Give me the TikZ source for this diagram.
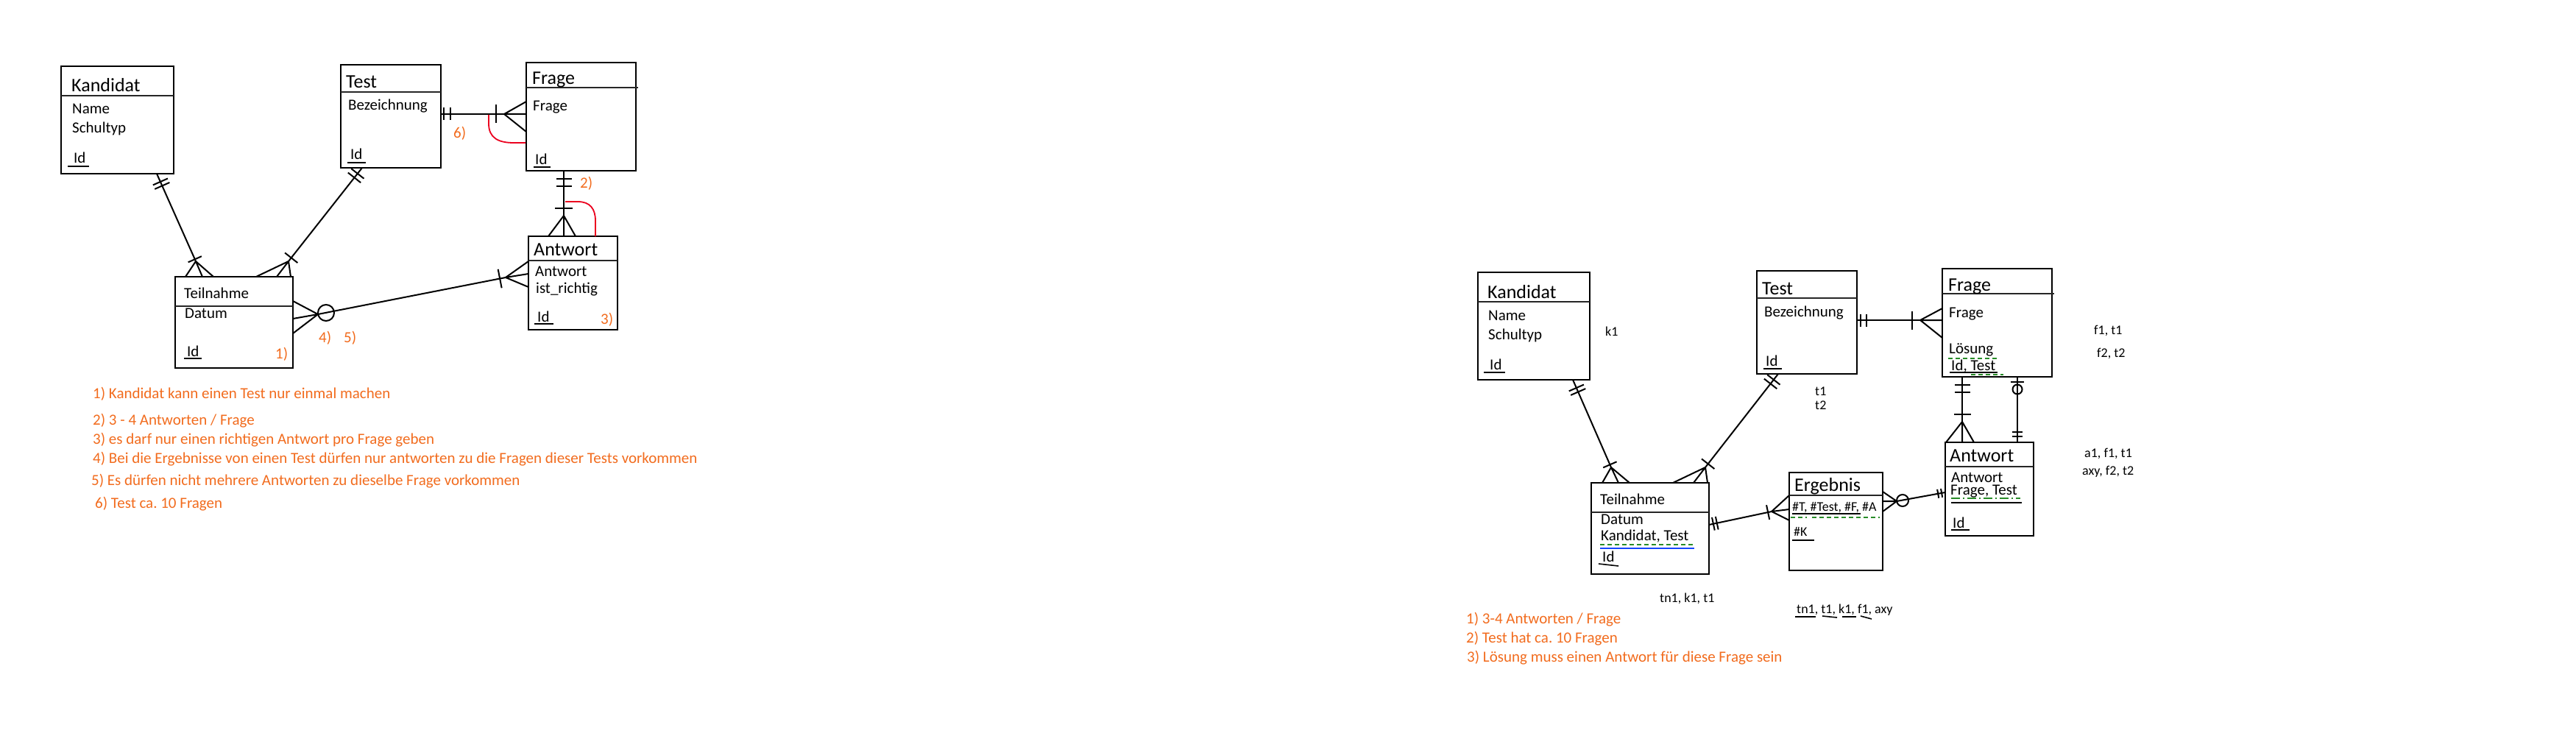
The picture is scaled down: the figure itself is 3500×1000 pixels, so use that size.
\documentclass[tikz,border=0pt]{standalone}
\usepackage{fontspec}
\setmainfont{Carlito}
\usetikzlibrary{calc}
\definecolor{orng}{RGB}{242,108,30}
\definecolor{redc}{RGB}{235,0,30}
\definecolor{grn}{RGB}{40,140,40}
\definecolor{blu}{RGB}{20,70,255}
\newcommand\ertick[4]{\draw[conn] ($(#1)!#3!(#2)!#4!90:(#2)$) -- ($(#1)!#3!(#2)!#4!-90:(#2)$);}
\newcommand\crow[4]{\draw[conn] (#1) -- (#2) (#1) -- (#3) (#1) -- (#4);}
\frenchspacing
\begin{document}
\begin{tikzpicture}[x=1pt,y=-1pt,
  ebox/.style n args={2}{draw, line width=2.2pt, anchor=north west, inner sep=0pt, outer sep=0pt, minimum width=#1pt, minimum height=#2pt},
  sepl/.style={line width=1.5pt, draw=black!85},
  conn/.style={line width=2pt},
  ul/.style={line width=1.6pt},
  gdash/.style={line width=1.5pt, draw=grn, dash pattern=on 6pt off 4pt},
  attr/.style={anchor=base west, inner sep=0pt, font=\fontsize{21}{25}\selectfont},
  ttl/.style={anchor=base west, inner sep=0pt, font=\fontsize{26}{30}\selectfont},
  small/.style={anchor=base west, inner sep=0pt, font=\fontsize{18}{22}\selectfont},
  note/.style={anchor=base west, inner sep=0pt, text=orng, font=\fontsize{21}{25}\selectfont},
  ring/.style={circle, draw, line width=2pt, inner sep=0pt, minimum size=#1pt}
]
\fill[white] (0,0) rectangle (3500,1000);
\useasboundingbox (0,0) rectangle (3500,1000);

%================ LEFT DIAGRAM ================
\node[ebox={153}{146}] (kand) at (83,90) {};
\draw[sepl] ([yshift=-40pt]kand.north west) -- ([yshift=-40pt]kand.north east);
\node[ebox={136}{140}] (test) at (463,88) {};
\draw[sepl] ([yshift=-37pt]test.north west) -- ([yshift=-37pt]test.north east);
\node[ebox={149}{147}] (frage) at (715,85) {};
\draw[sepl] ([yshift=-34pt]frage.north west) -- ([yshift=-34pt,xshift=3pt]frage.north east);
\node[ebox={121}{127}] (antw) at (718,321) {};
\draw[sepl] ([yshift=-33pt]antw.north west) -- ([yshift=-33pt]antw.north east);
\node[ebox={160}{124}] (teil) at (238,376) {};
\draw[sepl] ([yshift=-40pt]teil.north west) -- ([yshift=-40pt]teil.north east);

% texts
\node[ttl] (kandT) at (97,125) {Kandidat};
\node[attr] (kandA) at (98,155) {Name};
\node[attr] (kandB) at (98,181) {Schultyp};
\node[attr] (kandI) at (100,222) {Id};
\draw[ul] (92,226) -- (121,226);

\node[ttl] (testT) at (470,120) {Test};
\node[attr] (testA) at (473,150) {Bezeichnung};
\node[attr] (testI) at (476,217) {Id};
\draw[ul] (472,221) -- (497,221);

\node[ttl] (frageT) at (723,115) {Frage};
\node[attr] (frageA) at (724,151) {Frage};
\node[attr] (frageI) at (727,224) {Id};
\draw[ul] (725,227) -- (748,227);

\node[ttl] (antwT) at (725,347) {Antwort};
\node[attr] (antwA) at (727,375) {Antwort};
\node[attr] (antwB) at (728,398) {ist\_richtig};
\node[attr] (antwI) at (730,437) {Id};
\draw[ul] (726,440) -- (752,440);
\node[note] (n3) at (816,440) {3)};

\node[attr] (teilT) at (250,405) {Teilnahme};
\node[attr] (teilA) at (251,432) {Datum};
\node[attr] (teilI) at (254,484) {Id};
\draw[ul] (250,487) -- (274,487);
\node[note] (n1) at (374,487) {1)};

\node[note] (n4) at (433,465) {4)};
\node[note] (n5) at (467,465) {5)};
\node[note] (n6) at (616,188) {6)};
\node[note] (n2) at (788,256) {2)};

% connector Kandidat - Teilnahme
\coordinate (c1s) at (213,236);
\coordinate (c1p) at (266,355);
\draw[conn] (c1s) -- (c1p);
\ertick{c1s}{c1p}{12pt}{11pt}
\ertick{c1s}{c1p}{18pt}{11pt}
\ertick{c1p}{c1s}{3pt}{10pt}
\crow{c1p}{252,376}{275,376}{290,376}

% connector Test - Teilnahme
\coordinate (c2s) at (492,228);
\coordinate (c2p) at (392,355);
\draw[conn] (c2s) -- (c2p);
\ertick{c2s}{c2p}{10pt}{11pt}
\ertick{c2s}{c2p}{17pt}{11pt}
\ertick{c2p}{c2s}{6pt}{11pt}
\crow{c2p}{348,376}{376,376}{395,376}

% connector Test - Frage
\coordinate (c3s) at (599,155);
\coordinate (c3e) at (715,155);
\coordinate (c3p) at (685,155);
\draw[conn] (c3s) -- (c3e);
\ertick{c3s}{c3e}{4pt}{8.5pt}
\ertick{c3s}{c3e}{13pt}{8.5pt}
\ertick{c3s}{c3e}{75pt}{12.5pt}
\crow{c3p}{715,138}{715,155}{715,179}
\draw[redc, line width=1.8pt] (664,156) -- (664,168) .. controls (664,188) and (678,194) .. (698,194) -- (714,194);

% connector Frage - Antwort
\coordinate (c4s) at (766,232);
\coordinate (c4e) at (766,321);
\coordinate (c4p) at (766,293);
\draw[conn] (c4s) -- (c4e);
\ertick{c4s}{c4e}{11pt}{10.5pt}
\ertick{c4s}{c4e}{21pt}{10.5pt}
\ertick{c4s}{c4e}{51pt}{12pt}
\crow{c4p}{745,321}{766,321}{782,321}
\draw[redc, line width=1.8pt] (768,274) -- (785,274) .. controls (802,274) and (809,284) .. (809,300) -- (809,321);

% connector Teilnahme - Antwort
\coordinate (c5a) at (432,427);
\coordinate (c5b) at (687,377);
\crow{c5a}{398,409}{398,433}{398,453}
\node[ring=22] (c5o) at (443,425) {};
\draw[conn] (c5a) -- (c5b);
\ertick{c5b}{c5a}{8pt}{13pt}
\crow{c5b}{718,355}{718,372}{718,390}

% notes left
\node[note] (l1) at (126,541) {1) Kandidat kann einen Test nur einmal machen};
\node[note] (l2) at (126,577) {2) 3 - 4 Antworten / Frage};
\node[note] (l3) at (126,603) {3) es darf nur einen richtigen Antwort pro Frage geben};
\node[note] (l4) at (126,629) {4) Bei die Ergebnisse von einen Test dürfen nur antworten zu die Fragen dieser Tests vorkommen};
\node[note] (l5) at (124,659) {5) Es dürfen nicht mehrere Antworten zu dieselbe Frage vorkommen};
\node[note] (l6) at (129,690) {6) Test ca. 10 Fragen};

%================ RIGHT DIAGRAM ================
\node[ebox={152}{146}] (kand2) at (2008,370) {};
\draw[sepl] ([yshift=-40pt]kand2.north west) -- ([yshift=-40pt]kand2.north east);
\node[ebox={136}{140}] (test2) at (2387,368) {};
\draw[sepl] ([yshift=-37pt]test2.north west) -- ([yshift=-37pt]test2.north east);
\node[ebox={149}{147}] (frage2) at (2639,365) {};
\draw[sepl] ([yshift=-34pt]frage2.north west) -- ([yshift=-34pt,xshift=3pt]frage2.north east);
\node[ebox={120}{127}] (antw2) at (2643,601) {};
\draw[sepl] ([yshift=-33pt]antw2.north west) -- ([yshift=-33pt]antw2.north east);
\node[ebox={160}{124}] (teil2) at (2162,656) {};
\draw[sepl] ([yshift=-40pt]teil2.north west) -- ([yshift=-40pt]teil2.north east);
\node[ebox={127}{133}] (erg) at (2431,642) {};
\draw[sepl] ([yshift=-31pt]erg.north west) -- ([yshift=-31pt]erg.north east);

\node[ttl] (kand2T) at (2021,405) {Kandidat};
\node[attr] (kand2A) at (2022,435) {Name};
\node[attr] (kand2B) at (2022,461) {Schultyp};
\node[attr] (kand2I) at (2024,502) {Id};
\draw[ul] (2016,506) -- (2045,506);
\node[small] (k1) at (2181,456) {k1};

\node[ttl] (test2T) at (2394,400) {Test};
\node[attr] (test2A) at (2397,430) {Bezeichnung};
\node[attr] (test2I) at (2399,497) {Id};
\draw[ul] (2396,501) -- (2421,501);
\node[small] (t1) at (2466,537) {t1};
\node[small] (t2) at (2466,556) {t2};

\node[ttl] (frage2T) at (2647,395) {Frage};
\node[attr] (frage2A) at (2648,431) {Frage};
\node[attr] (frage2B) at (2648,480) {Lösung};
\draw[gdash] (2647,487) -- (2713,487);
\node[attr] (frage2I) at (2651,503) {Id, Test};
\draw[ul] (2649,506) -- (2714,506);
\draw[gdash] (2678,509) -- (2722,509);

\node[ttl] (antw2T) at (2649,627) {Antwort};
\node[attr] (antw2A) at (2651,655) {Antwort};
\node[attr] (antw2B) at (2650,672) {Frage, Test};
\draw[line width=1.5pt, draw=grn, dash pattern=on 12pt off 4pt on 2pt off 4pt] (2651,677) -- (2745,677);
\draw[ul] (2651,683) -- (2747,683);
\node[attr] (antw2I) at (2653,717) {Id};
\draw[ul] (2651,720) -- (2676,720);

\node[attr] (teil2T) at (2174,685) {Teilnahme};
\node[attr] (teil2A) at (2175,712) {Datum};
\node[attr] (teil2B) at (2175,734) {Kandidat, Test};
\draw[gdash] (2174,740) -- (2302,740);
\draw[line width=1.5pt, draw=blu] (2174,745) -- (2302,745);
\node[attr] (teil2I) at (2177,763) {Id};
\draw[ul] (2172,766) -- (2199,769);

\node[ttl] (ergT) at (2438,667) {Ergebnis};
\node[small] (ergA) at (2435,694) {\#T, \#Test, \#F, \#A};
\draw[ul] (2435,698) -- (2528,698);
\draw[gdash] (2433,703) -- (2455,703);
\draw[gdash] (2462,703) -- (2554,703);
\node[small] (ergB) at (2437,728) {\#K};
\draw[ul] (2435,734) -- (2465,734);

% connector Kandidat2 - Teilnahme2
\coordinate (d1s) at (2137,516);
\coordinate (d1p) at (2189,635);
\draw[conn] (d1s) -- (d1p);
\ertick{d1s}{d1p}{12pt}{11pt}
\ertick{d1s}{d1p}{18pt}{11pt}
\ertick{d1p}{d1s}{4pt}{10pt}
\crow{d1p}{2177,656}{2199,656}{2214,656}

% connector Test2 - Teilnahme2
\coordinate (d2s) at (2416,508);
\coordinate (d2p) at (2317,635);
\draw[conn] (d2s) -- (d2p);
\ertick{d2s}{d2p}{10pt}{11pt}
\ertick{d2s}{d2p}{17pt}{11pt}
\ertick{d2p}{d2s}{6pt}{11pt}
\crow{d2p}{2273,656}{2301,656}{2320,656}

% connector Test2 - Frage2
\coordinate (d3s) at (2523,435);
\coordinate (d3e) at (2639,435);
\coordinate (d3p) at (2609,435);
\draw[conn] (d3s) -- (d3e);
\ertick{d3s}{d3e}{5pt}{8.5pt}
\ertick{d3s}{d3e}{13pt}{8.5pt}
\ertick{d3s}{d3e}{75pt}{12.5pt}
\crow{d3p}{2639,419}{2639,435}{2639,459}

% connector Frage2 - Antwort2 (left)
\coordinate (d4s) at (2666,512);
\coordinate (d4e) at (2666,601);
\coordinate (d4p) at (2666,573);
\draw[conn] (d4s) -- (d4e);
\ertick{d4s}{d4e}{11pt}{10.5pt}
\ertick{d4s}{d4e}{21pt}{10.5pt}
\ertick{d4s}{d4e}{51pt}{11.5pt}
\crow{d4p}{2644,601}{2666,601}{2682,601}

% connector Frage2 - Antwort2 (right)
\coordinate (d5s) at (2741,512);
\coordinate (d5e) at (2741,601);
\draw[conn] (d5s) -- (d5e);
\ertick{d5s}{d5e}{7pt}{9pt}
\node[ring=13] (d5o) at (2741,529) {};
\ertick{d5e}{d5s}{8pt}{7pt}
\ertick{d5e}{d5s}{14pt}{7pt}

% connector Ergebnis - Antwort2
\coordinate (d6a) at (2577,681);
\coordinate (d6e) at (2643,669);
\crow{d6a}{2558,668}{2558,681}{2558,695}
\node[ring=16] (d6o) at (2585,680) {};
\draw[conn] (d6a) -- (d6e);
\ertick{d6e}{d6a}{5pt}{6pt}
\ertick{d6e}{d6a}{10pt}{6pt}

% connector Teilnahme2 - Ergebnis
\coordinate (d7s) at (2322,713);
\coordinate (d7p) at (2407,695);
\draw[conn] (d7s) -- (d7p);
\ertick{d7s}{d7p}{6pt}{9pt}
\ertick{d7s}{d7p}{11pt}{9pt}
\ertick{d7p}{d7s}{5pt}{10pt}
\crow{d7p}{2431,673}{2431,692}{2431,707}

% small labels
\node[small] (lb1) at (2255,818) {tn1, k1, t1};
\node[small] (lb2) at (2441,833) {tn1, t1, k1, f1, axy};
\draw[ul] (2439,838) -- (2467,838);
\draw[ul] (2476,837) -- (2496,839);
\draw[ul] (2503,838) -- (2522,838);
\draw[ul] (2528,837) -- (2543,841);
\node[small] (lb3) at (2845,454) {f1, t1};
\node[small] (lb4) at (2849,485) {f2, t2};
\node[small] (lb5) at (2832,621) {a1, f1, t1};
\node[small] (lb6) at (2829,645) {axy, f2, t2};

% notes right
\node[note] (r1) at (1992,847) {1) 3-4 Antworten / Frage};
\node[note] (r2) at (1992,873) {2) Test hat ca. 10 Fragen};
\node[note] (r3) at (1993,899) {3) Lösung muss einen Antwort für diese Frage sein};
\end{tikzpicture}
\end{document}
